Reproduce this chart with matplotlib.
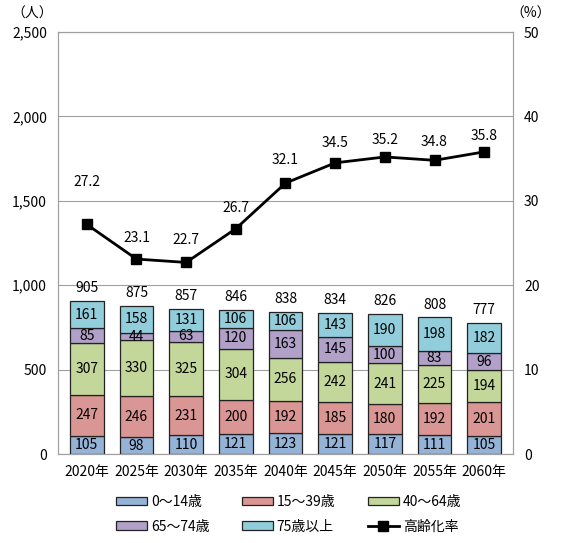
import numpy as np
import matplotlib.pyplot as plt

plt.rcParams['font.family'] = ['Noto Sans CJK JP', 'DejaVu Sans']

years = ['2020年', '2025年', '2030年', '2035年', '2040年', '2045年', '2050年', '2055年', '2060年']
age_0_14 = [105, 98, 110, 121, 123, 121, 117, 111, 105]
age_15_39 = [247, 246, 231, 200, 192, 185, 180, 192, 201]
age_40_64 = [307, 330, 325, 304, 256, 242, 241, 225, 194]
age_65_74 = [85, 44, 63, 120, 163, 145, 100, 83, 96]
age_75_up = [161, 158, 131, 106, 106, 143, 190, 198, 182]
totals = [905, 875, 857, 846, 838, 834, 826, 808, 777]
aging_rate = [27.2, 23.1, 22.7, 26.7, 32.1, 34.5, 35.2, 34.8, 35.8]

labels = ['0～14歳', '15～39歳', '40～64歳', '65～74歳', '75歳以上']
colors = ['#95B3D7', '#DA9694', '#C4D79B', '#B1A0C7', '#92CDDC']
series = [age_0_14, age_15_39, age_40_64, age_65_74, age_75_up]
fs = 10

fig = plt.figure(figsize=(5.61, 5.43), dpi=100)
ax = fig.add_axes([0.1034, 0.1639, 0.811, 0.7771])
x = np.arange(len(years))

bottom = np.zeros(len(years))
bars = []
for vals, col, lab in zip(series, colors, labels):
    b = ax.bar(x, vals, 0.68, bottom=bottom, color=col, edgecolor='#222222',
               linewidth=0.9, label=lab, zorder=2)
    bars.append(b)
    for xi, v, b0 in zip(x, vals, bottom):
        ax.text(xi, b0 + v / 2, str(v), ha='center', va='center', fontsize=fs, zorder=3)
    bottom += np.array(vals)

for xi, t, b0 in zip(x, totals, bottom):
    ax.text(xi, b0 + 35, str(t), ha='center', va='bottom', fontsize=fs)

ax.set_ylim(0, 2500)
ax.set_yticks(range(0, 2501, 500))
ax.set_yticklabels([f'{v:,}' for v in range(0, 2501, 500)])
ax.set_xlim(-0.58, len(years) - 0.42)
ax.set_xticks(x)
ax.set_xticklabels(years)
ax.grid(axis='y', color='#A0A0A0', linewidth=0.8, zorder=0)
ax.set_axisbelow(True)
ax.tick_params(axis='both', length=0, labelsize=fs, pad=8)
for s in ax.spines.values():
    s.set_color('#A0A0A0')

ax2 = ax.twinx()
line, = ax2.plot(x, aging_rate, color='black', linewidth=2, marker='s',
                 markersize=6.5, label='高齢化率', zorder=5)
# label offset in pixels (first label sits higher in the source)
offs = [42, 21, 22, 21, 23, 20, 17, 18, 16]
for xi, r, o in zip(x, aging_rate, offs):
    ax2.annotate(f'{r:.1f}', (xi, r), xytext=(0, o * 0.72), textcoords='offset points',
                 ha='center', va='center', fontsize=fs)
ax2.set_ylim(0, 50)
ax2.set_yticks(range(0, 51, 10))
ax2.tick_params(axis='y', length=0, labelsize=fs, pad=8)
for s in ax2.spines.values():
    s.set_color('#A0A0A0')

fig.text(0.057, 0.975, '（人）', ha='center', va='center', fontsize=fs)
fig.text(0.945, 0.975, '（%）', ha='center', va='center', fontsize=fs)

handles = [bars[0], bars[3], bars[1], bars[4], bars[2], line]
names = [labels[0], labels[3], labels[1], labels[4], labels[2], '高齢化率']
fig.legend(handles, names, ncol=3, loc='lower left', bbox_to_anchor=(0.185, -0.006),
           frameon=False, fontsize=fs, handlelength=2.2, handleheight=0.6,
           columnspacing=2.35, handletextpad=0.3, labelspacing=0.78)

fig.savefig('out.png', dpi=100)
